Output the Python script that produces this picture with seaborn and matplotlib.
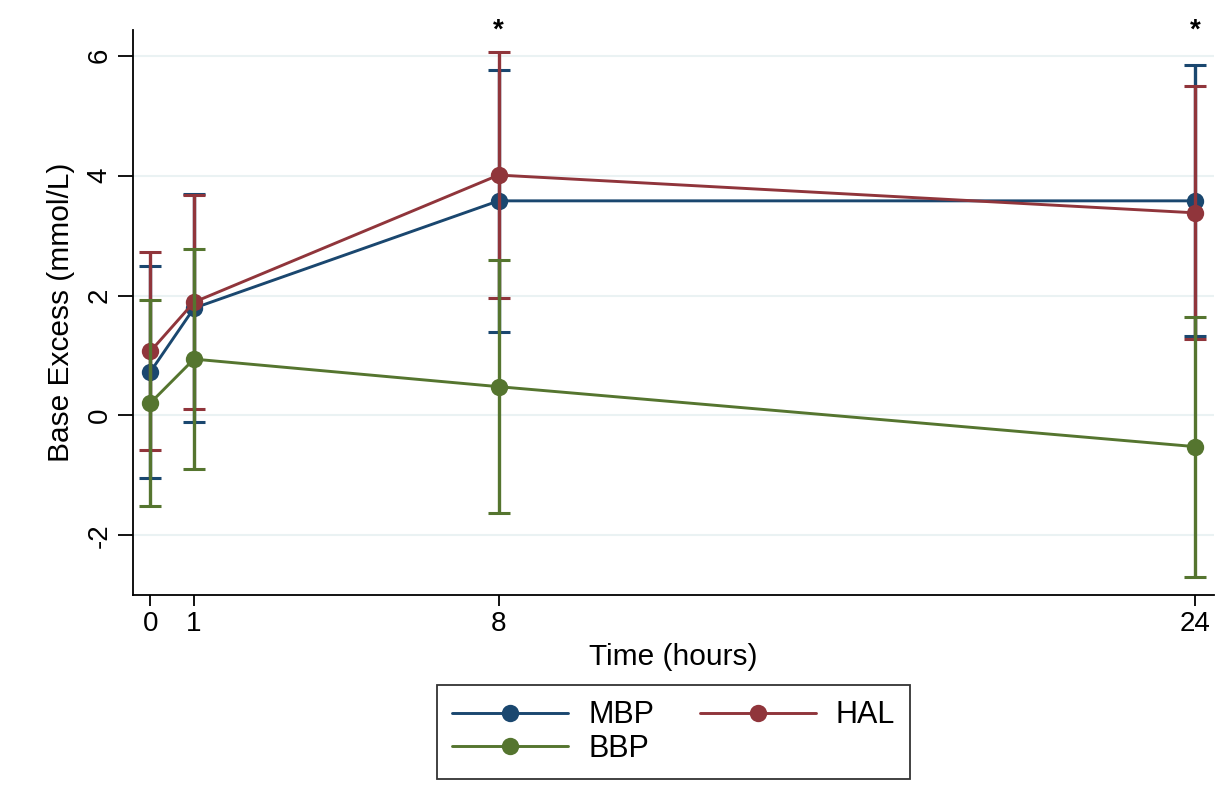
import numpy as np
import pandas as pd
import seaborn as sns
import matplotlib.pyplot as plt

hours = [0, 1, 8, 24]
groups = ["MBP", "HAL", "BBP"]
mbp_mean = [0.73, 1.79, 3.58, 3.58]
mbp_sd = [1.77, 1.90, 2.19, 2.26]
hal_mean = [1.07, 1.89, 4.01, 3.38]
hal_sd = [1.65, 1.79, 2.05, 2.11]
bbp_mean = [0.21, 0.94, 0.48, -0.52]
bbp_sd = [1.72, 1.84, 2.11, 2.17]
star_hours = [8, 24]

colors = {"MBP": "#1a476f", "HAL": "#90353b", "BBP": "#55752f"}

means = {"MBP": mbp_mean, "HAL": hal_mean, "BBP": bbp_mean}
sds = {"MBP": mbp_sd, "HAL": hal_sd, "BBP": bbp_sd}
df = pd.DataFrame([
    {"Time": t, "Group": g, "BE": means[g][i], "SD": sds[g][i]}
    for g in groups for i, t in enumerate(hours)
])

sns.set_style("white")
plt.rcParams["font.family"] = ["Liberation Sans", "DejaVu Sans"]
plt.rcParams["axes.unicode_minus"] = False
plt.rcParams["text.color"] = "black"
plt.rcParams["axes.labelcolor"] = "black"

fig = plt.figure(figsize=(12.28, 8.11), dpi=100)
ax = fig.add_axes([0.108, 0.266, 0.881, 0.697])

for z, g in enumerate(groups):
    d = df[df["Group"] == g]
    ax.errorbar(d["Time"], d["BE"], yerr=d["SD"], fmt="none", ecolor=colors[g],
                elinewidth=2.4, capsize=8, capthick=2.2, zorder=2 + z)
    sns.lineplot(data=d, x="Time", y="BE", color=colors[g], marker="o",
                 markersize=12.5, markeredgewidth=0, linewidth=2.1, ax=ax,
                 label=g, zorder=2.5 + z)

for t in star_hours:
    ax.text(t, 6.2, "*", ha="center", va="bottom", fontsize=20,
            fontweight="bold", clip_on=False)

ax.set_xlim(-0.41, 24.45)
ax.set_ylim(-3.0, 6.43)
ax.set_xticks(hours)
ax.set_yticks([-2, 0, 2, 4, 6])
ax.yaxis.grid(True, color="#eaf2f3", linewidth=1.5)
ax.set_axisbelow(True)
for s in ["top", "right"]:
    ax.spines[s].set_visible(False)
for s in ["left", "bottom"]:
    ax.spines[s].set_color("black")
    ax.spines[s].set_linewidth(1.3)
ax.tick_params(axis="both", direction="out", width=1.3,
               labelsize=20, colors="black", left=True, bottom=True)
ax.tick_params(axis="y", length=11)
ax.tick_params(axis="x", length=8)
plt.setp(ax.get_yticklabels(), rotation=90, va="center")
ax.set_xlabel("Time (hours)", fontsize=21.5, labelpad=4)
ax.set_ylabel("Base Excess (mmol/L)", fontsize=21.5, labelpad=8)

h, l = ax.get_legend_handles_labels()
order = [l.index("MBP"), l.index("BBP"), l.index("HAL")]
leg = fig.legend([h[i] for i in order], [l[i] for i in order], ncol=2,
                 loc="center", bbox_to_anchor=(0.5485, 0.0974), fontsize=22,
                 frameon=True, fancybox=False, edgecolor="black",
                 handlelength=3.8, columnspacing=1.5, borderpad=0.5,
                 labelspacing=0.1, handletextpad=0.65)
leg.get_frame().set_linewidth(1.3)
if ax.get_legend():
    ax.get_legend().remove()

fig.savefig("out.png", dpi=100)
